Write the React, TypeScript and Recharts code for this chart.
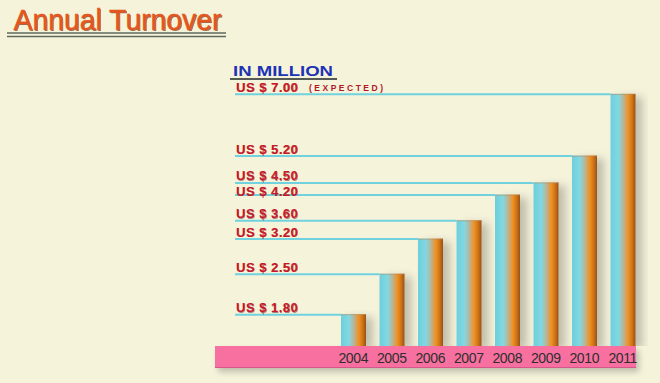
import React from 'react';
import { BarChart, Bar, XAxis, YAxis, LabelList } from 'recharts';

const years = ['2004', '2005', '2006', '2007', '2008', '2009', '2010', '2011'];
const turnover = [1.8, 2.5, 3.2, 3.6, 4.2, 4.5, 5.2, 7.0];
const valueLabels = ['US $ 1.80', 'US $ 2.50', 'US $ 3.20', 'US $ 3.60', 'US $ 4.20', 'US $ 4.50', 'US $ 5.20', 'US $ 7.00'];
const notes = ['', '', '', '', '', '', '', '(EXPECTED)'];

const data = years.map((year, i) => ({ year, turnover: turnover[i] }));

const BG = '#f6f3db';
const LABEL_X = 235;
const Y_DOMAIN: [number, number] = [1.33, 8.1];
const LABEL_FONT = 13;
const MIN_GAP = LABEL_FONT * 1.117 + 0.6;

const BarShape = (props: any) => {
  const { x, y, width, height } = props;
  if (!height || height <= 0) return null;
  return (
    <g>
      <rect x={x} y={y} width={width} height={height} fill="url(#barGrad)" filter="url(#barShadow)" />
      <rect x={x} y={y} width={width} height={1} fill="#b08a60" opacity={0.6} />
    </g>
  );
};

const ValueLabel = (props: any) => {
  const { x, y, height, index, value } = props;
  const label = valueLabels[index];
  const note = notes[index];
  // find the next higher value to keep texts from colliding (same sqrt scale as the axis)
  const bottom = y + height;
  const base = Math.sqrt(Y_DOMAIN[0]);
  const k = height / (Math.sqrt(value) - base);
  const higher = turnover.filter((v) => v > value).sort((a, b) => a - b)[0];
  let shift = 0;
  if (higher !== undefined && isFinite(k)) {
    const nextY = bottom - k * (Math.sqrt(higher) - base);
    const gap = y - nextY;
    shift = Math.max(0, MIN_GAP - gap);
  }
  const ty = y - 2 + shift;
  return (
    <g>
      <line x1={LABEL_X} y1={y + 0.5} x2={x} y2={y + 0.5} stroke="#6fd2de" strokeWidth={2} />
      <text x={LABEL_X + 1.6} y={ty + 0.6} fontFamily="Liberation Sans, Arial, sans-serif" fontWeight="bold" fontSize={LABEL_FONT} letterSpacing={0.5} fill="#5a0f14" opacity={0.5}>
        {label}
      </text>
      <text x={LABEL_X + 1} y={ty} fontFamily="Liberation Sans, Arial, sans-serif" fontWeight="bold" fontSize={LABEL_FONT} letterSpacing={0.5} fill="#c9182c">
        {label}
      </text>
      {note ? (
        <text x={LABEL_X + 74} y={ty - 0.5} fontFamily="Liberation Sans, Arial, sans-serif" fontWeight="bold" fontSize={8.5} fill="#b0182a" textLength={74} lengthAdjust="spacing">
          {note}
        </text>
      ) : null}
    </g>
  );
};

const YearTick = (props: any) => {
  const { x, y, payload } = props;
  return (
    <text x={x} y={y + 17} textAnchor="middle" fontFamily="Liberation Sans, Arial, sans-serif" fontSize={14} fill="#2e2e2e" letterSpacing={-0.4}>
      {payload.value}
    </text>
  );
};

export default function App() {
  return (
    <div style={{ position: 'relative', width: 660, height: 383, background: BG, overflow: 'hidden' }}>
      <style>{`body{margin:0;background:${BG};}`}</style>
      <svg width={660} height={100} style={{ position: 'absolute', left: 0, top: 0 }}>
        <text x={14.6} y={30.6} fontFamily="Liberation Sans, Arial, sans-serif" fontSize={29} fill="#5b3620" opacity={0.7} textLength={208} lengthAdjust="spacingAndGlyphs">
          Annual Turnover
        </text>
        <text x={13.5} y={29.5} fontFamily="Liberation Sans, Arial, sans-serif" fontSize={29} fill="#e4561d" stroke="#e4561d" strokeWidth={0.4} textLength={208} lengthAdjust="spacingAndGlyphs">
          Annual Turnover
        </text>
        <line x1={7} y1={33} x2={226} y2={33} stroke="#5d6a5e" strokeWidth={1.6} />
        <line x1={7} y1={36.5} x2={226} y2={36.5} stroke="#5d6a5e" strokeWidth={1.6} />
        <text x={233} y={76} fontFamily="Liberation Sans, Arial, sans-serif" fontWeight="bold" fontSize={15.5} fill="#1d33b5" textLength={100} lengthAdjust="spacingAndGlyphs">
          IN MILLION
        </text>
        <line x1={230} y1={79} x2={337} y2={79} stroke="#555a55" strokeWidth={2} />
      </svg>
      <div
        style={{
          position: 'absolute',
          left: 215,
          top: 346,
          width: 421,
          height: 22,
          background: '#f7709f',
          boxShadow: '3px 4px 6px rgba(0,0,0,0.22)',
          borderBottom: '1px solid #d8578a',
          boxSizing: 'border-box',
        }}
      />
      <div style={{ position: 'absolute', left: 0, top: 0 }}>
        <BarChart width={660} height={383} data={data} margin={{ top: 60, right: 18, bottom: 0, left: 334 }}>
          <defs>
            <linearGradient id="barGrad" x1="0" y1="0" x2="1" y2="0">
              <stop offset="0%" stopColor="#6ccfdc" />
              <stop offset="32%" stopColor="#82d8e2" />
              <stop offset="52%" stopColor="#b9b496" />
              <stop offset="72%" stopColor="#f0901f" />
              <stop offset="88%" stopColor="#c96f18" />
              <stop offset="100%" stopColor="#985015" />
            </linearGradient>
            <filter id="barShadow" x="-20%" y="-10%" width="170%" height="130%">
              <feDropShadow dx={7} dy={3} stdDeviation={4.5} floodColor="#000000" floodOpacity={0.22} />
            </filter>
          </defs>
          <XAxis dataKey="year" height={37} axisLine={false} tickLine={false} tickSize={0} tickMargin={0} interval={0} tick={<YearTick />} />
          <YAxis hide type="number" scale="sqrt" domain={Y_DOMAIN} allowDataOverflow />
          <Bar dataKey="turnover" barSize={25} isAnimationActive={false} shape={<BarShape />}>
            <LabelList dataKey="turnover" content={<ValueLabel />} />
          </Bar>
        </BarChart>
      </div>
    </div>
  );
}
